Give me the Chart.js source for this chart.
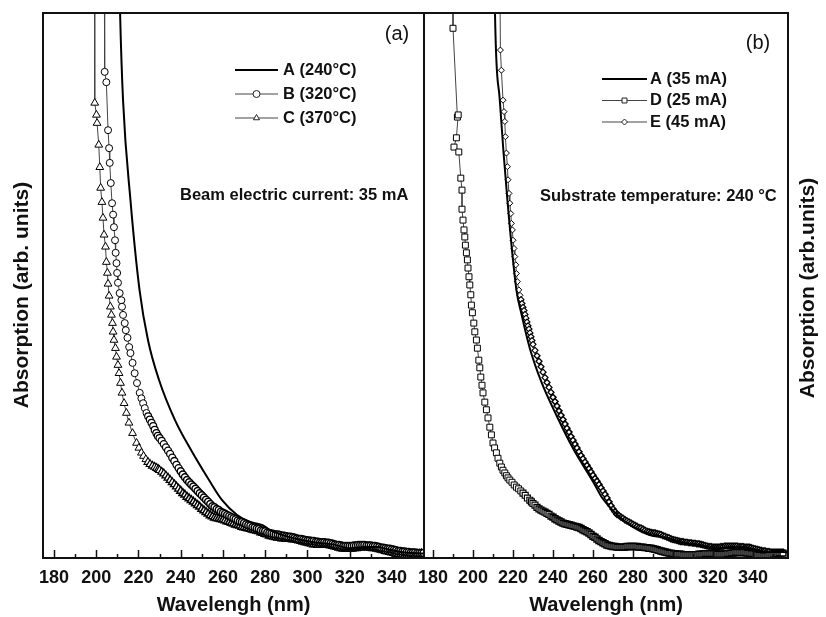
<!DOCTYPE html>
<html>
<head>
<meta charset="utf-8">
<script src="https://cdn.jsdelivr.net/npm/chart.js@4.4.1/dist/chart.umd.min.js"></script>
<style>
html,body{margin:0;padding:0;background:#fff;}
#wrap{position:relative;width:826px;height:617px;overflow:hidden;background:#fff;}
canvas{position:absolute;top:0;}
#cA{left:0;width:430px;height:617px;}
#cB{left:400px;width:426px;height:617px;}
</style>
</head>
<body>
<div id="wrap">
<canvas id="cA" width="430" height="617"></canvas>
<canvas id="cB" width="426" height="617"></canvas>
</div>
<script>
// ---------- axis ticks ----------
const tickValues = [180,190,200,210,220,230,240,250,260,270,280,290,300,310,320,330,340,350];
const labelValues = [180,200,220,240,260,280,300,320,340];

// ---------- series labels ----------
const labelsA = ['A (240\u00B0C)', 'B (320\u00B0C)', 'C (370\u00B0C)'];
const labelsB = ['A (35 mA)', 'D (25 mA)', 'E (45 mA)'];

// shared wavelength grid for the flat parts (nm)
const tailWl = [230,231,232,233,234,235,236,237,238,239,240,241,242,243,244,245,246,247,248,249,
250,251,252,253,254,255,256,257,258,259,260,261,262,263,264,265,266,267,268,269,
270,271,272,273,274,275,276,277,278,279,280,281,282,283,284,285,286,287,288,289,
290,291,292,293,294,295,296,297,298,299,300,301,302,303,304,305,306,307,308,309,
310,311,312,313,314,315,316,317,318,319,320,321,322,323,324,325,326,327,328,329,
330,331,332,333,334,335,336,337,338,339,340,341,342,343,344,345,346,347,348,349,
350,351,352,353,354,355];

// ---------- panel (a) ----------
const aLeftWl = [210.8,211.3,212.7,216.2,220.5,224.5,229.7,237.3,244.9,253.4,259.6,266.7,273.0,279.0,282.3,288.4,295.0,304.5,312.0,320.0,327.0,333.0,338.0,344.0,350.0,356.0];
const aLeftAbs = [110,100,84.0,65.7,49.2,40.0,32.7,25.3,19.8,14.3,10.6,7.9,6.6,6.0,5.1,4.2,3.5,2.8,2.5,1.8,2.0,2.0,1.6,1.1,0.9,0.8];

const bWl = [203.8,204.0,204.8,205.6,206.1,206.4,206.9,207.5,208.0,208.4,208.9,209.2,209.6,209.9,210.3,211.1,211.9,212.2,212.7,213.5,214.0,214.8,215.6,216.2,217.2,218.2,219.3,220.6,221.4,222.2,223.0,223.8,224.6,225.4,226.2,227.0,227.7,228.5,229.2];
const bAbs = [110,89.2,87.3,78.5,75.2,72.5,68.8,65.1,63.0,60.7,58.3,56.0,54.1,52.3,50.5,48.6,47.3,46.1,44.6,43.1,41.8,40.4,38.7,37.6,35.8,33.9,32.1,30.3,29.3,28.4,27.5,26.6,26.0,25.4,24.8,24.2,23.5,22.9,22.4];
const bTail = [22.0,21.5,20.9,20.3,19.7,19.1,18.4,17.8,17.1,16.5,
15.9,15.3,14.8,14.3,13.9,13.5,13.1,12.7,12.3,11.9,
11.5,11.1,10.7,10.3,9.9,9.5,9.3,9.0,8.8,8.5,
8.3,8.1,7.9,7.7,7.5,7.3,7.1,6.9,6.7,6.6,
6.4,6.2,6.0,5.9,5.7,5.6,5.4,5.3,5.1,5.0,
4.9,4.7,4.6,4.5,4.4,4.3,4.3,4.2,4.1,4.1,
4.0,3.9,3.9,3.8,3.7,3.6,3.5,3.5,3.4,3.3,
3.2,3.2,3.1,3.1,3.0,3.0,2.9,2.9,2.9,2.8,
2.8,2.7,2.6,2.5,2.4,2.4,2.3,2.2,2.2,2.2,
2.2,2.2,2.3,2.3,2.4,2.4,2.4,2.4,2.3,2.3,
2.3,2.2,2.2,2.1,2.0,1.9,1.9,1.8,1.7,1.7,
1.6,1.5,1.4,1.3,1.3,1.2,1.2,1.1,1.1,1.0,
1.0,1.0,0.9,0.9,0.9,0.9];

const cWl = [199.2,199.3,200.1,200.4,201.2,201.7,202.1,202.7,203.2,203.7,204.4,204.8,205.3,205.6,206.1,206.7,207.2,207.7,208.0,208.4,209.1,209.6,210.3,210.8,211.5,212.2,213.2,214.3,215.5,217.2,219.1,220.2,221.4,222.4,223.5,224.5,225.5,226.6,227.7,228.6,229.4];
const cAbs = [110,83.5,81.3,79.8,75.8,71.7,67.9,65.3,62.4,59.3,57.1,54.3,52.3,50.3,48.1,46.1,44.6,43.1,41.5,40.0,38.5,36.9,35.4,33.9,32.1,30.3,28.4,26.6,24.8,22.9,21.1,20.2,19.3,18.7,18.1,17.6,17.2,16.9,16.7,16.5,16.3];
const cTail = [16.1,15.8,15.5,15.1,14.7,14.3,13.9,13.5,13.1,12.7,
12.3,11.9,11.6,11.2,10.9,10.6,10.3,10.0,9.7,9.4,
9.0,8.7,8.4,8.1,7.8,7.6,7.4,7.3,7.2,7.1,
7.0,6.9,6.7,6.6,6.4,6.3,6.1,6.0,5.9,5.7,
5.6,5.5,5.4,5.3,5.2,5.1,5.0,4.9,4.7,4.6,
4.4,4.3,4.1,4.0,3.9,3.8,3.7,3.7,3.6,3.6,
3.5,3.5,3.5,3.4,3.4,3.3,3.2,3.1,3.0,2.9,
2.8,2.7,2.6,2.5,2.5,2.4,2.4,2.4,2.4,2.4,
2.4,2.3,2.2,2.1,2.0,1.9,1.8,1.7,1.7,1.7,
1.7,1.7,1.8,1.8,1.9,1.9,2.0,2.0,2.0,1.9,
1.9,1.8,1.8,1.7,1.6,1.5,1.4,1.3,1.2,1.1,
1.0,0.9,0.8,0.7,0.6,0.6,0.5,0.5,0.5,0.5,
0.6,0.6,0.7,0.7,0.8,0.8];

// ---------- panel (b) ----------
const aRightWl = [210.7,211.0,213.4,217.2,221.7,224.2,228.4,234.2,241.7,250.2,260.2,264.3,271.7,279.9,288.4,296.9,304.9,313.4,321.9,329.9,338.4,346.9,354.9,358.0];
const aRightAbs = [110,100,84.0,65.7,49.2,44.8,38.5,32.3,26.2,20.0,13.9,11.2,8.1,5.7,4.2,3.7,2.8,2.4,1.8,2.0,1.8,1.1,1.1,1.0];

const dWl = [190.0,190.0,192.2,192.6,191.7,190.5,192.9,193.9,194.5,194.5,195.0,195.5,195.9,196.2,196.7,197.2,197.5,198.0,198.4,198.9,199.2,199.7,200.4,200.9,201.7,202.2,202.9,203.4,203.9,204.5,205.0,205.9,206.7,207.5,208.4,209.2,210.0,210.8,211.7,212.5,213.4,214.2,215.0,215.9,216.7,217.5,218.4,219.5,220.6,221.7,222.8,223.9,225.0,226.1,227.2,228.4,229.2];
const dAbs = [110,97.2,80.9,81.3,77.1,75.4,74.5,69.7,67.5,64.0,62.0,60.2,58.9,57.4,56.0,54.7,53.2,51.6,50.1,48.3,46.4,45.0,43.1,41.5,40.0,38.5,36.3,34.9,33.2,31.7,30.3,28.6,27.2,25.7,24.0,22.6,21.1,20.2,19.3,18.3,17.4,16.7,16.1,15.6,15.1,14.7,14.3,13.9,13.4,13.0,12.7,12.3,11.9,11.5,11.0,10.6,10.3];
const dTail = [10.0,9.7,9.3,9.0,8.8,8.6,8.4,8.2,8.0,7.7,
7.5,7.2,7.0,6.8,6.6,6.4,6.3,6.2,6.1,6.0,
5.9,5.8,5.7,5.6,5.4,5.2,5.0,4.8,4.6,4.3,
4.0,3.8,3.5,3.2,3.0,2.8,2.6,2.4,2.3,2.2,
2.1,2.1,2.0,2.0,2.0,2.0,2.0,2.1,2.1,2.1,
2.1,2.1,2.1,2.0,2.0,2.0,1.9,1.9,1.8,1.8,
1.7,1.6,1.5,1.4,1.3,1.2,1.1,1.0,0.9,0.9,
0.8,0.8,0.7,0.7,0.7,0.6,0.6,0.6,0.6,0.6,
0.6,0.6,0.6,0.7,0.7,0.7,0.8,0.8,0.8,0.8,
0.8,0.8,0.7,0.7,0.7,0.7,0.7,0.8,0.8,0.9,
0.9,1.0,1.0,1.0,1.0,1.0,1.0,0.9,0.9,0.8,
0.8,0.7,0.6,0.5,0.5,0.4,0.4,0.4,0.5,0.6,
0.7,0.8,0.8,0.9,0.9,0.9];

const eWl = [213.4,213.7,214.2,215.0,215.5,215.9,216.2,216.7,217.2,217.5,218.0,218.4,218.9,219.2,219.7,220.0,220.5,220.9,221.4,221.7,222.2,222.9,223.5,224.0,224.5,225.0,225.5,226.0,226.5,227.0,227.5,228.0,228.5,229.0,229.5];
const eAbs = [110,93.2,89.5,84.0,81.9,80.1,77.3,74.3,71.8,69.4,66.9,65.1,63.2,61.4,60.2,58.3,56.8,55.3,53.8,52.2,50.7,49.2,48.2,47.4,46.7,46.0,45.4,44.7,44.0,43.3,42.6,42.0,41.3,40.6,39.9];
const eTail = [39.2,38.1,37.1,36.1,35.1,34.1,33.1,32.2,31.3,30.4,
29.5,28.7,27.9,27.0,26.2,25.4,24.6,23.8,23.1,22.3,
21.6,20.9,20.2,19.5,18.8,18.2,17.6,17.0,16.4,15.8,
15.2,14.6,14.1,13.5,12.9,12.3,11.7,11.0,10.3,9.6,
9.0,8.5,8.0,7.8,7.5,7.3,7.0,6.8,6.6,6.4,
6.2,6.0,5.8,5.6,5.5,5.3,5.1,4.9,4.8,4.7,
4.6,4.6,4.5,4.4,4.3,4.1,4.0,3.8,3.7,3.5,
3.4,3.3,3.2,3.1,3.0,3.0,2.9,2.9,2.8,2.8,
2.7,2.7,2.6,2.6,2.5,2.4,2.3,2.2,2.1,2.1,
2.0,2.0,2.0,2.0,2.1,2.1,2.2,2.2,2.2,2.2,
2.2,2.2,2.2,2.1,2.1,2.1,2.0,2.0,2.0,1.9,
1.8,1.7,1.6,1.5,1.4,1.3,1.3,1.2,1.2,1.1,
1.1,1.1,1.1,1.1,1.1,1.1];

// ---------- helpers ----------
const FONT = "'Liberation Sans', Arial, Helvetica, sans-serif";
function pts(wl, v) { return wl.map((x, i) => ({x: x, y: v[i]})); }

function lineSet(label, wl, v) {
  return {label, data: pts(wl, v), borderColor: '#000', borderWidth: 2, pointRadius: 0,
          cubicInterpolationMode: 'monotone', fill: false, order: 0};
}
function markSet(label, data, style, r) {
  return {label, data, borderColor: '#444', borderWidth: 1, pointStyle: style, pointRadius: r,
          pointBorderColor: '#000', pointBackgroundColor: '#fff',
          // markers are drawn a little heavier where they crowd together
          pointBorderWidth: c => {
            const x = c.raw ? c.raw.x : 0;
            return x < 224 ? 1 : x < 232 ? 1.15 : x < 240 ? 1.3 : 1.5;
          },
          legendBorder: 1,
          tension: 0, fill: false, order: 1};
}

const framePlugin = {
  id: 'frame',
  afterDraw(chart) {
    const {ctx, chartArea: a, scales} = chart;
    ctx.save();
    ctx.strokeStyle = '#111'; ctx.lineWidth = 1.5;
    tickValues.forEach(v => {
      const x = Math.round(scales.x.getPixelForValue(v)) + 0.5;
      const len = labelValues.includes(v) ? 8 : 4;
      ctx.beginPath(); ctx.moveTo(x, a.bottom); ctx.lineTo(x, a.bottom - len); ctx.stroke();
    });
    ctx.strokeStyle = '#111'; ctx.lineWidth = 2;
    ctx.strokeRect(a.left, a.top, a.right - a.left, a.bottom - a.top);
    ctx.restore();
  }
};

const legendPlugin = {
  id: 'panelLegend',
  afterDraw(chart, args, o) {
    const ctx = chart.ctx;
    ctx.save();
    chart.data.datasets.forEach((ds, i) => {
      const y = o.y0 + i * o.dy;
      ctx.strokeStyle = ds.borderColor; ctx.lineWidth = ds.borderWidth;
      ctx.beginPath(); ctx.moveTo(o.x0, y); ctx.lineTo(o.x1, y); ctx.stroke();
      if (ds.pointRadius > 0) {
        ctx.fillStyle = ds.pointBackgroundColor; ctx.strokeStyle = '#222';
        ctx.lineWidth = ds.legendBorder;
        Chart.helpers.drawPoint(ctx, {pointStyle: ds.pointStyle, radius: Math.min(ds.pointRadius, 3.5),
          borderWidth: ds.legendBorder, rotation: 0}, (o.x0 + o.x1) / 2, y);
      }
      ctx.fillStyle = '#111'; ctx.font = 'bold 16.5px ' + FONT;
      ctx.textAlign = 'left'; ctx.textBaseline = 'middle';
      ctx.fillText(ds.label, o.tx, y);
    });
    ctx.restore();
  }
};

const textPlugin = {
  id: 'panelTexts',
  afterDraw(chart, args, o) {
    const ctx = chart.ctx;
    o.items.forEach(t => {
      ctx.save();
      ctx.fillStyle = '#111'; ctx.font = t.font + ' ' + FONT;
      ctx.textAlign = t.align || 'left'; ctx.textBaseline = 'middle';
      ctx.translate(t.x, t.y);
      if (t.rot) ctx.rotate(t.rot);
      ctx.fillText(t.text, 0, 0);
      ctx.restore();
    });
  }
};

function xScale(min, max) {
  return {
    type: 'linear', min, max,
    afterBuildTicks: s => { s.ticks = tickValues.map(v => ({value: v})); },
    afterFit: s => { s.height = 59; },
    grid: {display: false, drawTicks: false},
    border: {display: false},
    ticks: {autoSkip: false, maxRotation: 0, padding: 9, color: '#111',
      font: {family: FONT, weight: 'bold', size: 18},
      callback: v => labelValues.includes(v) ? String(v) : ''},
    title: {display: true, text: 'Wavelengh (nm)', color: '#111',
      font: {family: FONT, weight: 'bold', size: 20}, padding: {top: 0, bottom: 0}}
  };
}

function baseOptions(pad, xmin, xmax, legend, texts) {
  return {
    responsive: false, animation: false, devicePixelRatio: 1,
    layout: {padding: pad},
    plugins: {legend: {display: false}, tooltip: {enabled: false},
      panelLegend: legend, panelTexts: {items: texts}},
    scales: {x: xScale(xmin, xmax), y: {display: false, min: 0, max: 100}}
  };
}

// ---------- panel (a) ----------
new Chart(document.getElementById('cA'), {
  type: 'line',
  data: {datasets: [
    lineSet(labelsA[0], aLeftWl, aLeftAbs),
    markSet(labelsA[1], pts(bWl, bAbs).concat(pts(tailWl, bTail)), 'circle', 3.5),
    markSet(labelsA[2], pts(cWl, cAbs).concat(pts(tailWl, cTail)), 'triangle', 4.5)
  ]},
  options: baseOptions({left: 43, right: 6, top: 13, bottom: 0}, 174.8, 355.2,
    {x0: 235, x1: 278, tx: 283, y0: 70, dy: 24},
    [
      {text: '(a)', x: 397, y: 34, font: '20px', align: 'center'},
      {text: 'Beam electric current: 35 mA', x: 180, y: 195, font: 'bold 16.5px'},
      {text: 'Absorption (arb. units)', x: 22, y: 295, font: 'bold 21px', align: 'center', rot: -Math.PI / 2}
    ]),
  plugins: [framePlugin, legendPlugin, textPlugin]
});

// ---------- panel (b) ----------
new Chart(document.getElementById('cB'), {
  type: 'line',
  data: {datasets: [
    lineSet(labelsB[0], aRightWl, aRightAbs),
    markSet(labelsB[1], pts(dWl, dAbs).concat(pts(tailWl, dTail)), 'rect', 4.2),
    markSet(labelsB[2], pts(eWl, eAbs).concat(pts(tailWl, eTail)), 'rectRot', 3)
  ]},
  options: baseOptions({left: 24, right: 38, top: 13, bottom: 0}, 175.5, 357.5,
    {x0: 202, x1: 247, tx: 250, y0: 79, dy: 21.5},
    [
      {text: '(b)', x: 358, y: 43, font: '20px', align: 'center'},
      {text: 'Substrate temperature: 240 \u00B0C', x: 140, y: 196, font: 'bold 16.5px'},
      {text: 'Absorption (arb.units)', x: 408, y: 288, font: 'bold 21px', align: 'center', rot: -Math.PI / 2}
    ]),
  plugins: [framePlugin, legendPlugin, textPlugin]
});
</script>
</body>
</html>
